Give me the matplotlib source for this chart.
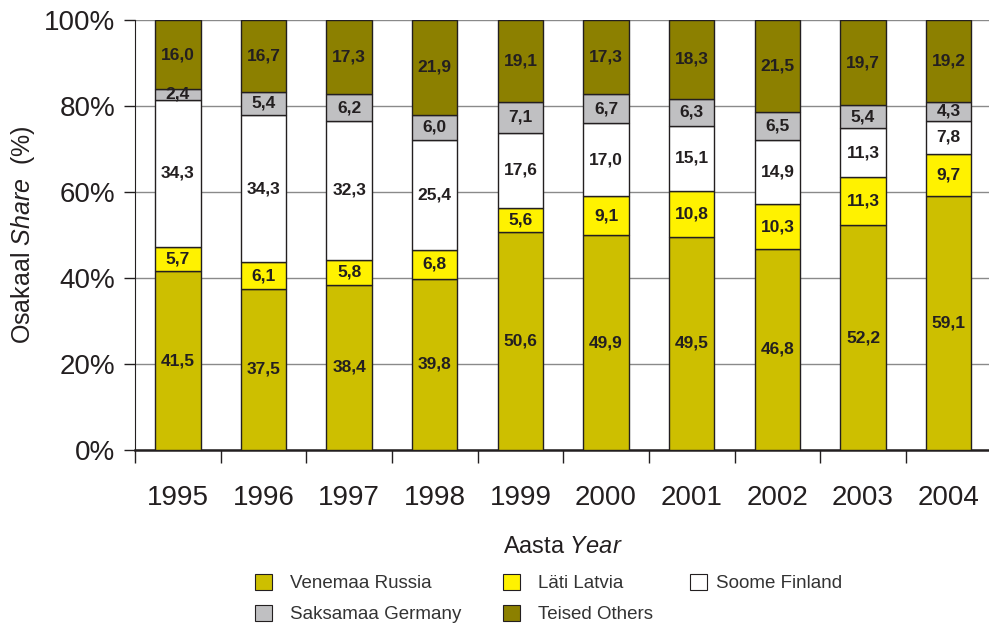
import matplotlib.pyplot as plt
import numpy as np
from matplotlib.patches import Patch

plt.rcParams["font.family"] = ["Liberation Sans", "DejaVu Sans"]
plt.rcParams["mathtext.fontset"] = "custom"
plt.rcParams["mathtext.rm"] = "Liberation Sans"
plt.rcParams["mathtext.it"] = "Liberation Sans:italic"

years = ["1995", "1996", "1997", "1998", "1999", "2000", "2001", "2002", "2003", "2004"]
russia  = [41.5, 37.5, 38.4, 39.8, 50.6, 49.9, 49.5, 46.8, 52.2, 59.1]
latvia  = [5.7, 6.1, 5.8, 6.8, 5.6, 9.1, 10.8, 10.3, 11.3, 9.7]
finland = [34.3, 34.3, 32.3, 25.4, 17.6, 17.0, 15.1, 14.9, 11.3, 7.8]
germany = [2.4, 5.4, 6.2, 6.0, 7.1, 6.7, 6.3, 6.5, 5.4, 4.3]
others  = [16.0, 16.7, 17.3, 21.9, 19.1, 17.3, 18.3, 21.5, 19.7, 19.2]

series = [
    ("Venemaa Russia", russia, "#CDBF00"),
    ("Läti Latvia", latvia, "#FFF200"),
    ("Soome Finland", finland, "#FFFFFF"),
    ("Saksamaa Germany", germany, "#C0C0C2"),
    ("Teised Others", others, "#8C8000"),
]
DARK = "#231F20"

fig = plt.figure(figsize=(9.89, 6.24), dpi=100)
ax = fig.add_axes([0.1365, 0.279, 0.866, 0.689])

x = np.arange(len(years))
bottom = np.zeros(len(years))
handles = {}
for name, vals, col in series:
    vals = np.array(vals)
    # top segment fills up to 100 %
    h = 100 - bottom if name == "Teised Others" else vals
    ax.bar(x, h, 0.53, bottom=bottom, color=col, edgecolor=DARK,
           linewidth=1.0, zorder=3)
    handles[name] = Patch(facecolor=col, edgecolor=DARK, linewidth=0.8)
    for xi, b, hh, v in zip(x, bottom, h, vals):
        ax.text(xi, b + hh / 2, f"{v:.1f}".replace(".", ","), ha="center",
                va="center", fontsize=12.5, fontweight="bold", color=DARK,
                zorder=4)
    bottom = bottom + h

ax.set_xlim(-0.5, len(years) - 0.5)
ax.set_ylim(0, 100)
ax.set_yticks([0, 20, 40, 60, 80, 100])
ax.set_yticklabels(["0%", "20%", "40%", "60%", "80%", "100%"])
ax.yaxis.grid(True, color="#8A8A8A", linewidth=1.0, zorder=0)
ax.tick_params(axis="y", labelsize=20, length=8, width=1, color=DARK,
               labelcolor=DARK, pad=6)

ax.set_xticks(x)
ax.set_xticklabels(years)
ax.set_xticks(np.arange(-0.5, len(years), 1.0), minor=True)
ax.tick_params(axis="x", which="major", length=0, labelsize=20, pad=25,
               labelcolor=DARK)
ax.tick_params(axis="x", which="minor", length=9, width=1, color=DARK)

for s in ["top", "right"]:
    ax.spines[s].set_visible(False)
ax.spines["left"].set_color(DARK)
ax.spines["bottom"].set_color(DARK)
ax.spines["bottom"].set_linewidth(1.8)

ax.set_ylabel(r"Osakaal $\it{Share}$  (%)", fontsize=18, color=DARK,
              labelpad=5)
ax.set_xlabel(r"Aasta $\it{Year}$", fontsize=17, color=DARK, labelpad=18)

# legend: three columns placed like the original
columns = [
    (["Venemaa Russia", "Saksamaa Germany"], 255, 0.95),
    (["Läti Latvia", "Teised Others"], 503, 0.95),
    (["Soome Finland"], 690, 0.5),
]
for names, xpx, gap in columns:
    fig.legend([handles[n] for n in names], names, loc="upper left",
               bbox_to_anchor=(xpx / 989, 1 - 574 / 624), frameon=False,
               fontsize=13.5, labelcolor="#333333", handlelength=0.9,
               handleheight=0.9, handletextpad=gap, labelspacing=0.68,
               borderpad=0, borderaxespad=0)

fig.savefig("out.png", dpi=100)
